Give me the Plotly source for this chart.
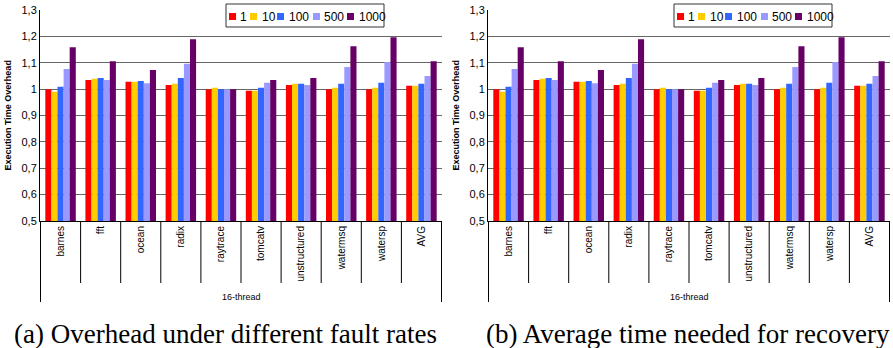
import plotly.graph_objects as go
from plotly.subplots import make_subplots

categories = ["barnes", "fft", "ocean", "radix", "raytrace", "tomcatv",
              "unstructured", "watermsq", "watersp", "AVG"]
series_names = ["1", "10", "100", "500", "1000"]
rate_1 = [1.000, 1.035, 1.0275, 1.016, 1.000, 0.994, 1.016, 1.000, 1.000, 1.0125]
rate_10 = [0.990, 1.039, 1.0275, 1.020, 1.005, 0.994, 1.020, 1.005, 1.005, 1.0125]
rate_100 = [1.009, 1.0425, 1.031, 1.0425, 1.000, 1.005, 1.020, 1.020, 1.024, 1.020]
rate_500 = [1.076, 1.035, 1.0225, 1.096, 1.000, 1.024, 1.016, 1.084, 1.1025, 1.050]
rate_1000 = [1.159, 1.106, 1.0725, 1.189, 1.000, 1.035, 1.0425, 1.1625, 1.197, 1.106]
series_values = [rate_1, rate_10, rate_100, rate_500, rate_1000]
colors = ["#FF0000", "#FFCC00", "#3366FF", "#9999FF", "#660066"]
y_ticks = [0.5, 0.6, 0.7, 0.8, 0.9, 1.0, 1.1, 1.2, 1.3]
y_tick_labels = ["0,5", "0,6", "0,7", "0,8", "0,9", "1", "1,1", "1,2", "1,3"]
group_label = "16-thread"
y_title = "Execution Time Overhead"
captions = ["(a) Overhead under different fault rates",
            "(b) Average time needed for recovery"]

W, H = 893, 348
def px(x):
    return x / W
def py(y):
    return 1 - y / H

fig = make_subplots(rows=1, cols=2)
for col in (1, 2):
    for name, vals, c in zip(series_names, series_values, colors):
        fig.add_trace(go.Bar(x=categories, y=vals, name=name, marker_color=c,
                             marker_line_width=0, showlegend=False),
                      row=1, col=col)

top, bot = py(10), py(221)
domains = [(px(40), px(442)), (px(488), px(890))]
fig.update_layout(
    width=W, height=H, margin=dict(l=0, r=0, t=0, b=0, autoexpand=False),
    paper_bgcolor="white", plot_bgcolor="white",
    barmode="group", bargap=0.24, bargroupgap=0,
    font=dict(family="Liberation Sans, Arial", color="black"),
    showlegend=False,
)
for i, ax in enumerate(["xaxis", "xaxis2"]):
    fig.layout[ax].update(domain=domains[i], type="category", showline=True,
                          linecolor="black", linewidth=1, ticks="",
                          tickangle=-90, tickfont=dict(size=10), showgrid=False,
                          automargin=False)
for ax in ["yaxis", "yaxis2"]:
    fig.layout[ax].update(domain=[bot, top], range=[0.5, 1.3], tickvals=y_ticks,
                          ticktext=y_tick_labels, showline=True, linecolor="black",
                          linewidth=1, showgrid=True, gridcolor="#666666",
                          gridwidth=1, ticks="", tickfont=dict(size=11),
                          zeroline=False, automargin=False)

shapes = []
annotations = []
# legend entry layout (pixel offsets within each panel)
leg_sq_x = [229, 250, 277, 313, 347]
leg_tx_x = [238, 260, 287, 322, 357]
for i, xref in enumerate(["x", "x2"]):
    off = 0 if i == 0 else 448
    for k in range(len(categories) + 1):
        outer = k == 0 or k == len(categories)
        shapes.append(dict(type="line", xref=xref, yref="paper",
                           x0=k - 0.5, x1=k - 0.5, y0=bot,
                           y1=py(302) if outer else py(283),
                           line=dict(color="black", width=1)))
    annotations.append(dict(text=group_label, xref=xref, yref="paper",
                            x=(len(categories) - 1) / 2, y=py(297),
                            showarrow=False, font=dict(size=9),
                            xanchor="center", yanchor="middle"))
    annotations.append(dict(text="<b>" + y_title + "</b>",
                            xref="paper", yref="paper",
                            x=px(8 + off), y=(top + bot) / 2,
                            textangle=-90, showarrow=False,
                            font=dict(size=9), xanchor="center",
                            yanchor="middle"))
    annotations.append(dict(text=captions[i], xref="paper", yref="paper",
                            x=px(225 if i == 0 else 688), y=py(334),
                            showarrow=False, xanchor="center", yanchor="middle",
                            font=dict(family="Liberation Serif, serif", size=27)))
    # legend box
    shapes.append(dict(type="rect", xref="paper", yref="paper",
                       x0=px(226 + off), x1=px(384 + off), y0=py(27), y1=py(4),
                       fillcolor="white", line=dict(color="#333333", width=1)))
    for name, c, sx, tx in zip(series_names, colors, leg_sq_x, leg_tx_x):
        shapes.append(dict(type="rect", xref="paper", yref="paper",
                           x0=px(sx + off), x1=px(sx + 7 + off),
                           y0=py(20), y1=py(13), fillcolor=c,
                           line=dict(width=0)))
        annotations.append(dict(text=name, xref="paper", yref="paper",
                                x=px(tx + off), y=py(16.5), xanchor="left",
                                yanchor="middle", showarrow=False,
                                font=dict(size=12)))
fig.update_layout(shapes=shapes, annotations=annotations)

fig.write_html("out.html", config={"displayModeBar": False},
               post_script="document.body.style.margin='0';"
                           "document.body.style.overflow='hidden';")
